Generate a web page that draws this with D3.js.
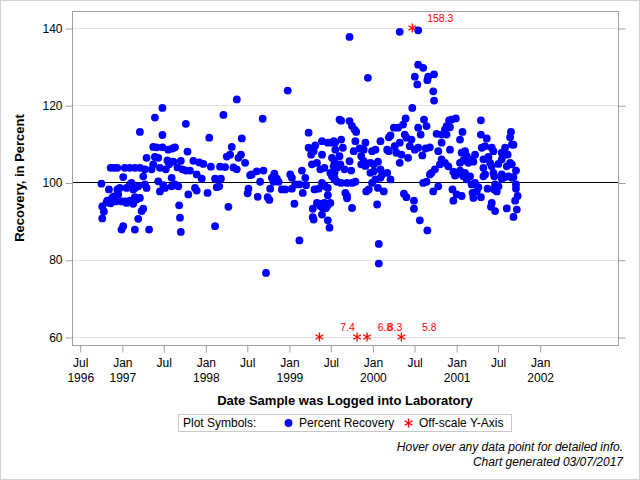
<!DOCTYPE html>
<html>
<head>
<meta charset="utf-8">
<script src="https://cdn.jsdelivr.net/npm/d3@7"></script>
<style>
  html, body { margin: 0; padding: 0; background: #fff; }
  svg { display: block; font-family: "Liberation Sans", Arial, Helvetica, sans-serif; }
</style>
</head>
<body>
<svg id="chart" width="640" height="480"></svg>
<script>
// ---------- DATA (decimal year of log date, percent recovery) ----------
const recoveryPoints = [
  [1996.75,99.7],[1996.76,93.8],[1996.78,92.5],[1996.76,90.7],[1996.81,94.8],[1996.84,98.2],[1996.82,95.3],
  [1996.86,103.8],[1996.88,96.1],[1996.86,94.6],[1996.90,103.8],[1996.90,96.4],[1996.92,95.1],[1996.94,103.8],
  [1996.94,98.2],[1996.95,96.9],[1996.97,98.6],[1996.99,95.1],[1996.99,87.8],[1997.01,88.7],[1997.01,101.4],
  [1997.03,103.8],[1997.03,95.1],[1997.05,98.6],[1997.05,94.7],[1997.09,103.8],[1997.09,99.5],[1997.09,95.3],
  [1997.11,99.9],[1997.13,98.2],[1997.13,94.5],[1997.15,103.8],[1997.15,98.6],[1997.15,96.2],[1997.15,87.8],
  [1997.17,95.6],[1997.19,90.6],[1997.19,99.0],[1997.21,113.1],[1997.21,103.8],[1997.21,96.0],[1997.23,92.6],
  [1997.25,93.2],[1997.25,101.6],[1997.27,99.5],[1997.27,103.4],[1997.29,98.6],[1997.29,106.4],[1997.32,87.8],
  [1997.35,103.4],[1997.37,104.7],[1997.37,109.2],[1997.39,116.8],[1997.39,106.6],[1997.41,109.1],[1997.43,106.4],
  [1997.43,100.3],[1997.45,103.8],[1997.45,97.7],[1997.48,119.3],[1997.48,112.3],[1997.48,109.1],[1997.49,99.3],
  [1997.51,98.6],[1997.52,103.4],[1997.54,105.7],[1997.55,108.5],[1997.56,104.7],[1997.59,101.2],[1997.59,99.0],
  [1997.60,108.8],[1997.61,105.4],[1997.63,109.1],[1997.63,99.5],[1997.66,103.9],[1997.67,99.0],[1997.68,94.1],
  [1997.69,90.9],[1997.70,87.2],[1997.70,105.6],[1997.72,103.4],[1997.76,115.2],[1997.76,103.1],[1997.78,108.0],
  [1997.79,96.9],[1997.81,103.1],[1997.85,105.6],[1997.87,98.6],[1997.89,102.1],[1997.89,97.9],[1997.92,105.2],
  [1997.95,101.0],[1997.97,104.8],[1998.02,97.3],[1998.04,111.6],[1998.06,104.1],[1998.11,88.7],[1998.11,101.0],
  [1998.13,98.8],[1998.16,99.0],[1998.17,104.1],[1998.18,101.0],[1998.21,117.5],[1998.23,104.0],[1998.25,106.7],
  [1998.27,93.7],[1998.29,107.2],[1998.31,109.2],[1998.33,103.9],[1998.37,121.5],[1998.37,103.4],[1998.39,106.4],
  [1998.43,111.4],[1998.42,107.2],[1998.47,105.1],[1998.50,97.2],[1998.51,98.4],[1998.53,101.9],[1998.55,102.1],
  [1998.61,102.9],[1998.62,96.3],[1998.65,100.2],[1998.68,116.5],[1998.69,103.1],[1998.72,76.6],[1998.74,96.2],
  [1998.76,95.5],[1998.77,98.4],[1998.79,101.2],[1998.81,100.2],[1998.82,102.3],[1998.85,101.0],[1998.87,100.2],
  [1998.91,98.2],[1998.95,98.2],[1998.98,123.8],[1999.01,102.1],[1999.03,101.2],[1999.03,98.4],[1999.06,94.5],
  [1999.07,99.5],[1999.12,99.5],[1999.12,85.0],[1999.15,103.1],[1999.16,97.3],[1999.19,101.2],[1999.20,99.3],
  [1999.23,112.9],[1999.23,109.0],[1999.26,107.2],[1999.27,104.7],[1999.28,93.2],[1999.28,91.0],[1999.29,108.1],
  [1999.29,90.4],[1999.30,98.2],[1999.31,109.6],[1999.33,105.1],[1999.33,94.7],[1999.35,98.4],[1999.37,103.4],
  [1999.37,93.9],[1999.39,91.7],[1999.39,110.7],[1999.39,107.2],[1999.39,99.9],[1999.39,94.5],[1999.40,93.4],
  [1999.42,103.8],[1999.42,94.7],[1999.43,99.0],[1999.44,93.4],[1999.46,90.2],[1999.46,98.6],[1999.46,110.3],
  [1999.46,96.7],[1999.46,94.1],[1999.48,88.3],[1999.49,94.7],[1999.51,101.6],[1999.51,110.3],[1999.53,110.7],
  [1999.54,100.8],[1999.55,110.4],[1999.55,108.5],[1999.57,100.2],[1999.60,116.3],[1999.62,116.0],[1999.62,111.1],
  [1999.62,99.9],[1999.64,109.0],[1999.67,97.3],[1999.69,99.9],[1999.69,96.5],[1999.69,95.9],[1999.72,137.7],
  [1999.72,115.9],[1999.75,114.6],[1999.75,99.9],[1999.75,93.4],[1999.77,108.1],[1999.78,113.7],[1999.79,110.7],
  [1999.79,100.2],[1999.80,113.1],[1999.84,108.8],[1999.89,108.5],[1999.91,110.3],[1999.92,97.7],[1999.94,127.1],
  [1999.95,98.2],[1999.99,99.9],[1999.99,108.1],[2000.03,108.5],[2000.03,100.8],[2000.05,94.3],[2000.06,98.6],
  [2000.07,84.1],[2000.07,79.0],[2000.09,110.7],[2000.09,101.2],[2000.13,97.7],[2000.17,108.5],[2000.19,111.7],
  [2000.21,112.2],[2000.19,108.1],[2000.25,114.2],
  [1999.86,106.8],[1999.89,105.5],[1999.86,104.7],[1999.91,104.3],[1999.97,105.1],[2000.01,104.7],[2000.06,105.4],
  [1999.97,102.5],[2000.01,102.9],[2000.09,103.4],[2000.11,102.1],
  [1999.51,106.4],[1999.54,105.4],[1999.60,106.8],[1999.53,104.2],[1999.57,103.8],[1999.61,104.7],[1999.54,102.5],
  [1999.66,103.4],[1999.72,105.5],[1999.74,103.1],[1999.49,102.5],[1999.54,101.2],
  [2000.17,102.5],[2000.21,100.8],
  [2000.26,109.4],[2000.28,107.7],[2000.30,114.2],[2000.32,139.0],[2000.32,110.3],[2000.32,105.1],[2000.34,107.2],
  [2000.36,115.0],[2000.37,97.1],[2000.38,112.4],[2000.39,116.6],[2000.40,111.6],[2000.40,96.2],[2000.42,106.4],
  [2000.44,109.4],[2000.46,111.1],[2000.47,119.3],[2000.49,95.3],[2000.49,93.2],[2000.50,108.5],[2000.50,127.4],
  [2000.53,125.4],[2000.54,139.4],[2000.54,130.5],[2000.54,114.2],[2000.54,109.0],[2000.56,90.2],[2000.57,112.4],
  [2000.59,107.0],[2000.60,129.7],[2000.60,99.9],[2000.61,116.3],[2000.63,108.8],[2000.64,114.6],[2000.64,100.2],
  [2000.65,126.5],[2000.65,87.6],[2000.66,127.4],[2000.68,109.1],[2000.68,102.1],[2000.70,102.5],[2000.72,123.6],
  [2000.72,97.7],[2000.73,128.0],[2000.73,121.2],[2000.74,103.4],[2000.76,112.6],[2000.78,108.1],[2000.78,99.0],
  [2000.80,104.7],[2000.82,112.4],[2000.82,110.3],[2000.82,106.0],[2000.86,113.7],[2000.86,105.1],[2000.88,114.6],
  [2000.88,112.4],[2000.90,104.2],[2000.91,116.1],[2000.92,114.3],[2000.92,108.5],[2000.94,116.3],[2000.95,98.2],
  [2000.96,102.8],[2000.96,95.3],[2000.98,101.8],[2000.99,116.6],[2001.00,102.1],[2001.00,96.9],[2001.04,111.1],
  [2001.04,105.1],[2001.04,103.1],[2001.06,107.7],[2001.06,96.5],[2001.07,113.1],[2001.08,105.7],[2001.08,101.6],
  [2001.10,108.1],[2001.10,102.5],[2001.12,106.8],[2001.12,100.8],[2001.14,105.1],[2001.16,106.0],[2001.16,101.6],
  [2001.18,99.5],[2001.19,97.3],[2001.20,105.4],[2001.20,96.0],[2001.22,107.2],[2001.22,99.9],[2001.24,97.7],
  [2001.26,98.8],[2001.29,116.1],[2001.29,112.4],[2001.29,96.2],[2001.30,109.0],[2001.32,106.0],[2001.32,103.8],
  [2001.32,101.6],[2001.34,109.4],[2001.34,102.1],[2001.36,111.4],[2001.37,98.4],[2001.38,106.6],[2001.40,105.1],
  [2001.41,93.7],[2001.42,109.0],[2001.42,104.2],[2001.42,94.7],[2001.44,108.1],[2001.44,102.5],[2001.45,101.6],
  [2001.45,98.2],[2001.46,99.5],[2001.46,92.6],[2001.48,97.7],[2001.50,104.8],[2001.50,99.0],[2001.54,107.7],
  [2001.54,106.0],[2001.54,102.1],[2001.54,101.0],[2001.56,107.2],[2001.58,109.0],[2001.58,101.4],[2001.60,104.2],
  [2001.60,93.3],[2001.61,107.2],[2001.62,101.6],[2001.64,111.7],[2001.64,105.1],[2001.65,113.1],[2001.66,109.8],
  [2001.66,104.7],[2001.66,101.2],[2001.68,109.8],[2001.68,91.1],[2001.68,101.4],[2001.70,95.3],[2001.71,103.1],
  [2001.71,99.5],[2001.71,98.4],[2001.72,93.0],[2001.73,96.5]
];

// off-scale samples (plotted at the axis limit, labelled with true value)
const offscaleDates  = [1999.36, 1999.81, 1999.93, 2000.34, 2000.47];
const offscaleValues = [7.4, 6.8, 8.3, 5.8, 158.3];

const yTicks = [60, 80, 100, 120, 140];
const yDomain = [57.93, 144.40];
const referenceValue = 100;
const xDomain = ["1996-05-26", "2002-12-07"];
const xTickDates  = ["1996-07-01","1997-01-01","1997-07-01","1998-01-01","1998-07-01","1999-01-01",
                     "1999-07-01","2000-01-01","2000-07-01","2001-01-01","2001-07-01","2002-01-01"];
const xTickMonth = ["Jul","Jan","Jul","Jan","Jul","Jan","Jul","Jan","Jul","Jan","Jul","Jan"];
const xTickYear  = ["1996","1997","","1998","","1999","","2000","","2001","","2002"];

const yTitle = "Recovery, in Percent";
const xTitle = "Date Sample was Logged into Laboratory";
const legendTitle = "Plot Symbols:";
const legendItems = ["Percent Recovery", "Off-scale Y-Axis"];
const footnotes = ["Hover over any data point for detailed info.", "Chart generated 03/07/2017"];

// ---------- DRAWING ----------
const svg = d3.select("#chart");
const W = 640, H = 480;
const plot = {left: 72, top: 11, right: 618, bottom: 345};

function decYearToDate(yf) {
  const y = Math.floor(yf);
  const s = Date.UTC(y, 0, 1), e = Date.UTC(y + 1, 0, 1);
  return new Date(s + (yf - y) * (e - s));
}
const parse = d3.utcParse("%Y-%m-%d");

const x = d3.scaleUtc().domain(xDomain.map(parse)).range([plot.left, plot.right]);
const y = d3.scaleLinear().domain(yDomain).range([plot.bottom, plot.top]);

// outer border
svg.append("rect").attr("x", 0.5).attr("y", 0.5).attr("width", W - 1).attr("height", H - 1)
  .attr("fill", "#fff").attr("stroke", "#d2d2d2");

// gridlines
svg.append("g").selectAll("line").data(yTicks).join("line")
  .attr("x1", plot.left).attr("x2", plot.right)
  .attr("y1", d => Math.round(y(d)) + 0.5).attr("y2", d => Math.round(y(d)) + 0.5)
  .attr("stroke", "#e4e4e4").attr("stroke-width", 1);

// reference line
svg.append("line")
  .attr("x1", plot.left).attr("x2", plot.right)
  .attr("y1", Math.round(y(referenceValue)) + 0.5).attr("y2", Math.round(y(referenceValue)) + 0.5)
  .attr("stroke", "#000").attr("stroke-width", 1);

// axes
const axisColor = "#a0a0a0";
const gL = svg.append("g").attr("transform", `translate(${plot.left + 0.5},0)`)
  .call(d3.axisLeft(y).tickValues(yTicks).tickSize(7).tickPadding(3).tickFormat(d3.format("d")));
const gR = svg.append("g").attr("transform", `translate(${plot.right + 0.5},0)`)
  .call(d3.axisRight(y).tickValues(yTicks).tickSize(7).tickFormat(""));
const gB = svg.append("g").attr("transform", `translate(0,${plot.bottom + 0.5})`)
  .call(d3.axisBottom(x).tickValues(xTickDates.map(parse)).tickSize(7).tickFormat(""));
[gL, gR, gB].forEach(g => {
  g.select(".domain").remove();
  g.selectAll(".tick line").attr("stroke", axisColor);
  g.selectAll("text").attr("font-family", "'Liberation Sans', Arial, sans-serif")
    .attr("font-size", 12).attr("fill", "#000");
});
gL.selectAll(".tick line").attr("transform", "translate(0,0.5)");
gR.selectAll(".tick line").attr("transform", "translate(0,0.5)");
gL.selectAll(".tick text").attr("dy", "0.34em");

// x tick labels (two lines)
const xl = svg.append("g").selectAll("text").data(xTickDates).join("text")
  .attr("x", d => x(parse(d)) + 0.5).attr("y", 367)
  .attr("text-anchor", "middle").attr("font-size", 12).attr("fill", "#000");
xl.append("tspan").attr("x", d => x(parse(d)) + 0.5).text((d, i) => xTickMonth[i]);
xl.append("tspan").attr("x", d => x(parse(d)) + 0.5).attr("dy", 14.5).text((d, i) => xTickYear[i]);

// frame
svg.append("rect").attr("x", plot.left + 0.5).attr("y", plot.top + 0.5)
  .attr("width", plot.right - plot.left).attr("height", plot.bottom - plot.top)
  .attr("fill", "none").attr("stroke", axisColor);

// data points
const ptColor = "#0000ff";
svg.append("g").selectAll("circle").data(recoveryPoints).join("circle")
  .attr("cx", d => x(decYearToDate(d[0])))
  .attr("cy", d => y(d[1]))
  .attr("r", 3.9)
  .attr("fill", ptColor);

// off-scale markers
const starColor = "#ff0000";
const star = d3.symbol().type(d3.symbolAsterisk).size(55);
const clampV = v => Math.max(yTicks[0], Math.min(yTicks[yTicks.length - 1], v));
const off = svg.append("g");
off.selectAll("path").data(offscaleDates).join("path")
  .attr("d", star)
  .attr("transform", (d, i) => `translate(${x(decYearToDate(d))},${y(clampV(offscaleValues[i]))})`)
  .attr("fill", "none").attr("stroke", starColor).attr("stroke-width", 1.3);
off.selectAll("text").data(offscaleDates).join("text")
  .attr("x", d => x(decYearToDate(d)) + 28)
  .attr("y", (d, i) => y(clampV(offscaleValues[i])) - 6)
  .attr("text-anchor", "middle").attr("font-size", 10.5).attr("fill", starColor)
  .text((d, i) => offscaleValues[i]);

// axis titles
svg.append("text").attr("transform", `translate(23.5,178) rotate(-90)`)
  .attr("text-anchor", "middle").attr("font-size", 13).attr("font-weight", "bold").text(yTitle);
svg.append("text").attr("x", 345).attr("y", 405)
  .attr("text-anchor", "middle").attr("font-size", 13).attr("font-weight", "bold").text(xTitle);

// legend
const lg = svg.append("g");
lg.append("rect").attr("x", 178.5).attr("y", 414.5).attr("width", 333).attr("height", 17)
  .attr("fill", "none").attr("stroke", "#c8c8c8");
lg.append("text").attr("x", 183).attr("y", 427).attr("font-size", 12).text(legendTitle);
lg.append("circle").attr("cx", 288.5).attr("cy", 423).attr("r", 3.9).attr("fill", ptColor);
lg.append("text").attr("x", 299).attr("y", 427).attr("font-size", 12).text(legendItems[0]);
lg.append("path").attr("d", star).attr("transform", "translate(408.5,423)")
  .attr("fill", "none").attr("stroke", starColor).attr("stroke-width", 1.3);
lg.append("text").attr("x", 419).attr("y", 427).attr("font-size", 12).text(legendItems[1]);

// footnotes
svg.append("g").selectAll("text").data(footnotes).join("text")
  .attr("x", 623).attr("y", (d, i) => 451 + i * 15)
  .attr("text-anchor", "end").attr("font-size", 12).attr("font-style", "italic").text(d => d);
</script>
</body>
</html>
